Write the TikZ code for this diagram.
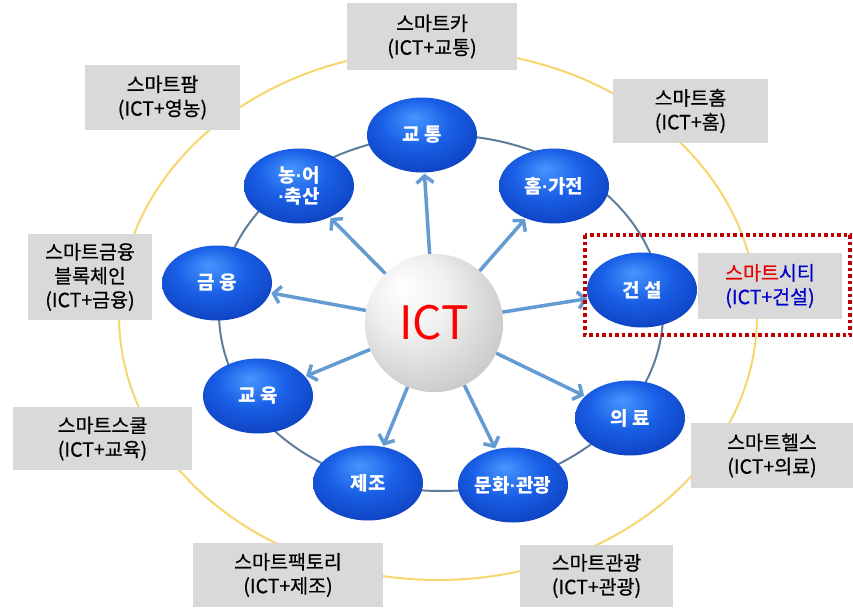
\documentclass[tikz,border=0pt]{standalone}
\usepackage{fontspec}
\setmainfont{Noto Sans CJK KR}
\newfontfamily\boxf[FakeBold=0.6]{Noto Sans CJK KR}
\newfontfamily\latinf{Liberation Sans}
\newcommand{\mdot}{{\latinf\bfseries ·}}
\usetikzlibrary{arrows.meta,shapes.geometric}

\definecolor{ringyellow}{RGB}{247,214,110}
\definecolor{ringblue}{RGB}{95,125,155}
\definecolor{boxgray}{RGB}{217,217,217}
\definecolor{arrblue}{RGB}{100,155,210}
\definecolor{blueA}{RGB}{70,150,255}
\definecolor{blueB}{RGB}{25,95,230}
\definecolor{blueC}{RGB}{12,60,185}
\definecolor{blueD}{RGB}{5,30,110}
\definecolor{citired}{RGB}{192,0,0}
\definecolor{textred}{RGB}{230,0,0}
\definecolor{textblue}{RGB}{0,0,200}

\pgfdeclareradialshading{bluegloss}{\pgfpoint{-4bp}{12bp}}{%
  color(0bp)=(blueA); color(16bp)=(blueB); color(34bp)=(blueC);
  color(46bp)=(blueD); color(50bp)=(blueD)}
\pgfdeclareradialshading{silverball}{\pgfpoint{-12bp}{14bp}}{%
  color(0bp)=(white); color(14bp)=(gray!12); color(34bp)=(gray!45);
  color(46bp)=(gray!65); color(50bp)=(gray!65)}

\begin{document}
\begin{tikzpicture}[x=1pt,y=-1pt,
                    gbox/.style={fill=boxgray,draw=none,align=center,inner sep=0pt,
                                 font=\boxf\fontsize{19.5}{24}\selectfont},
                    bnode/.style={ellipse,minimum width=110pt,minimum height=75pt,inner sep=0pt,
                                  shading=bluegloss,text=white,align=center,
                                  font=\fontsize{19}{22}\selectfont\bfseries},
                    ictball/.style={circle,minimum size=138pt,inner sep=0pt,shading=silverball,
                                    text=red,font=\fontsize{46}{46}\selectfont},
                    arr/.style={-{Straight Barb[length=7pt,width=17pt]},line width=3.5pt,
                                draw=arrblue,shorten >=1pt}]
  \useasboundingbox (0,0) rectangle (853,607);
  \fill[white] (0,0) rectangle (853,607);

  % outer ring and the smart-service boxes
  \draw[ringyellow,line width=2pt] (438,315) ellipse [x radius=319, y radius=265];

  \node[gbox,minimum width=170pt,minimum height=67pt] (car)     at (432,36.5)  {스마트카\\(ICT+교통)};
  \node[gbox,minimum width=155pt,minimum height=65pt] (farm)    at (162.5,97.5) {스마트팜\\(ICT+영농)};
  \node[gbox,minimum width=155pt,minimum height=64pt] (shome)   at (690.5,111) {스마트홈\\(ICT+홈)};
  \node[gbox,minimum width=124pt,minimum height=86pt] (sfin)    at (90,277)    {스마트금융\\블록체인\\(ICT+금융)};
  \node[gbox,minimum width=144pt,minimum height=66pt] (city)    at (770,286)
       {{\color{textred}스마트}{\color{textblue}시티}\\{\color{textblue}(ICT+건설)}};
  \node[gbox,minimum width=179pt,minimum height=63pt] (school)  at (102.5,438.5) {스마트스쿨\\(ICT+교육)};
  \node[gbox,minimum width=162pt,minimum height=65pt] (health)  at (772,455.5) {스마트헬스\\(ICT+의료)};
  \node[gbox,minimum width=190pt,minimum height=64pt] (factory) at (288,575)    {스마트팩토리\\(ICT+제조)};
  \node[gbox,minimum width=153pt,minimum height=62pt] (tour)    at (596.5,576) {스마트관광\\(ICT+관광)};

  % inner ring with the ICT fields
  \draw[ringblue,line width=2pt] (441,313) ellipse [x radius=222, y radius=178];

  \node[bnode] (kt)   at (422,135) {교 통};
  \node[bnode] (home) at (554,186) {홈\mdot 가전};
  \node[bnode] (cons) at (642,290) {건 설};
  \node[bnode] (med)  at (630,418) {의 료};
  \node[bnode] (cul)  at (513,485) {문화\mdot 관광};
  \node[bnode] (man)  at (368,483) {제조};
  \node[bnode] (edu)  at (258,396) {교 육};
  \node[bnode] (fin)  at (217,283) {금 융};
  \node[bnode,font=\fontsize{19}{21}\selectfont\bfseries] (agri) at (299,186) {농\mdot 어\\\mdot 축산};

  \node[ictball] (ict) at (434,323) {ICT};

  \path[arr] (ict) edge (kt)
                   edge (home)
                   edge (cons)
                   edge (med)
                   edge (cul)
                   edge (man)
                   edge (edu)
                   edge (fin)
                   edge (agri);
  \node[ictball] at (ict) {ICT};

  % highlight frame round the smart city entry
  \draw[citired,line width=3.5pt,dash pattern=on 3.5pt off 3pt] (585,235) rectangle (850,335);
\end{tikzpicture}
\end{document}
